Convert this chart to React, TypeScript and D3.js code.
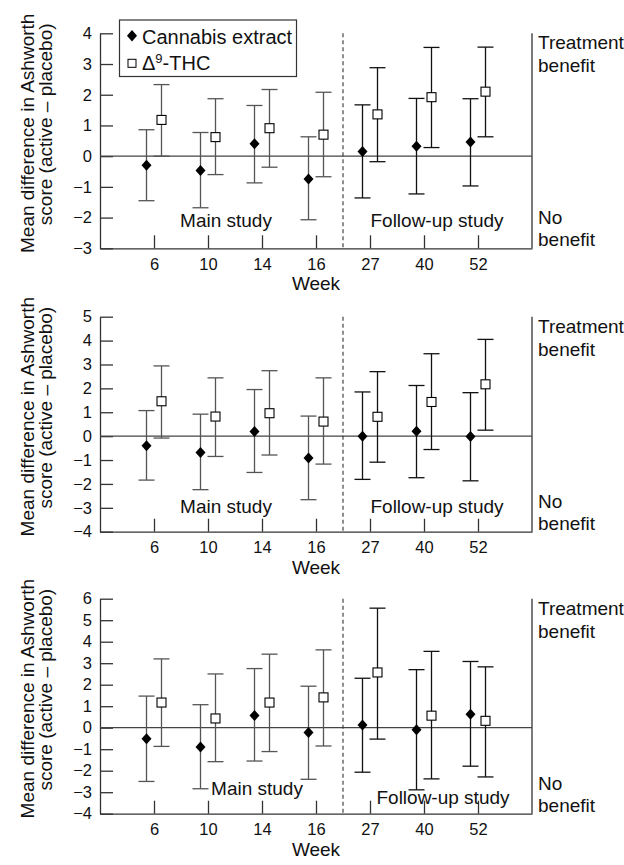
import * as d3 from "d3";
import { useEffect, useRef } from "react";

const weeks = ["6", "10", "14", "16", "27", "40", "52"];

// panel 1
const p1CannabisMean = [-0.3, -0.47, 0.4, -0.74, 0.15, 0.32, 0.46];
const p1CannabisLo = [-1.45, -1.68, -0.87, -2.07, -1.36, -1.23, -0.97];
const p1CannabisHi = [0.86, 0.77, 1.65, 0.63, 1.67, 1.88, 1.87];
const p1ThcMean = [1.18, 0.62, 0.91, 0.7, 1.36, 1.92, 2.1];
const p1ThcLo = [0.0, -0.6, -0.36, -0.67, -0.18, 0.28, 0.63];
const p1ThcHi = [2.33, 1.87, 2.17, 2.08, 2.88, 3.54, 3.55];
const p1Ticks = [-3, -2, -1, 0, 1, 2, 3, 4];

// panel 2
const p2CannabisMean = [-0.4, -0.68, 0.19, -0.91, 0.0, 0.21, -0.01];
const p2CannabisLo = [-1.84, -2.24, -1.52, -2.66, -1.81, -1.74, -1.87];
const p2CannabisHi = [1.07, 0.92, 1.95, 0.84, 1.85, 2.12, 1.82];
const p2ThcMean = [1.46, 0.82, 0.96, 0.61, 0.81, 1.43, 2.17];
const p2ThcLo = [-0.08, -0.85, -0.79, -1.17, -1.09, -0.56, 0.25];
const p2ThcHi = [2.94, 2.44, 2.74, 2.44, 2.7, 3.45, 4.05];
const p2Ticks = [-4, -3, -2, -1, 0, 1, 2, 3, 4, 5];

// panel 3
const p3CannabisMean = [-0.51, -0.9, 0.57, -0.22, 0.12, -0.09, 0.63];
const p3CannabisLo = [-2.5, -2.84, -1.55, -2.4, -2.07, -2.89, -1.79];
const p3CannabisHi = [1.47, 1.07, 2.75, 1.93, 2.3, 2.7, 3.08];
const p3ThcMean = [1.17, 0.43, 1.17, 1.41, 2.57, 0.56, 0.32];
const p3ThcLo = [-0.87, -1.58, -1.11, -0.85, -0.53, -2.38, -2.29];
const p3ThcHi = [3.2, 2.5, 3.42, 3.62, 5.56, 3.55, 2.83];
const p3Ticks = [-4, -3, -2, -1, 0, 1, 2, 3, 4, 5, 6];

const FONT = "'Liberation Sans', Arial, sans-serif";

type Series = { mean: number[]; lo: number[]; hi: number[] };

const panels = [
  {
    top: 33.3,
    ticks: p1Ticks,
    cannabis: { mean: p1CannabisMean, lo: p1CannabisLo, hi: p1CannabisHi },
    thc: { mean: p1ThcMean, lo: p1ThcLo, hi: p1ThcHi },
    mainX: 226,
    mainDy: -21,
    followX: 437,
    followDy: -21,
    legend: true,
  },
  {
    top: 316.7,
    ticks: p2Ticks,
    cannabis: { mean: p2CannabisMean, lo: p2CannabisLo, hi: p2CannabisHi },
    thc: { mean: p2ThcMean, lo: p2ThcLo, hi: p2ThcHi },
    mainX: 226,
    mainDy: -19,
    followX: 437,
    followDy: -19,
    legend: false,
  },
  {
    top: 598.7,
    ticks: p3Ticks,
    cannabis: { mean: p3CannabisMean, lo: p3CannabisLo, hi: p3CannabisHi },
    thc: { mean: p3ThcMean, lo: p3ThcLo, hi: p3ThcHi },
    mainX: 257,
    mainDy: -19,
    followX: 443,
    followDy: -10,
    legend: false,
  },
];

export default function App() {
  const svgRef = useRef<SVGSVGElement | null>(null);
  const width = 624;
  const height = 865;
  const panelH = 215;
  const left = 100;
  const right = 532;

  useEffect(() => {
    const svg = d3.select(svgRef.current);
    svg.selectAll("*").remove();

    const x = d3.scaleLinear().domain([0, 8]).range([left, right]);

    panels.forEach((p) => {
      const bottom = p.top + panelH;
      const y = d3
        .scaleLinear()
        .domain([p.ticks[0], p.ticks[p.ticks.length - 1]])
        .range([bottom, p.top]);
      const g = svg.append("g");

      // y axis
      const yAxis = d3
        .axisLeft(y)
        .tickValues(p.ticks)
        .tickSize(-13)
        .tickSizeOuter(0)
        .tickPadding(8)
        .tickFormat((d) => d3.format("")(d as number).replace("-", "\u2212"));
      g.append("g")
        .attr("transform", `translate(${left},0)`)
        .call(yAxis)
        .call((s) => s.selectAll("text").attr("font-size", 16.5).attr("font-family", FONT).attr("fill", "#111"))
        .call((s) => s.selectAll("line, path").attr("stroke", "#333").attr("stroke-width", 1.3));

      // x axis
      const xAxis = d3
        .axisBottom(x)
        .tickValues(d3.range(1, 8))
        .tickSize(-13)
        .tickSizeOuter(0)
        .tickPadding(10)
        .tickFormat((d) => weeks[(d as number) - 1]);
      g.append("g")
        .attr("transform", `translate(0,${bottom})`)
        .call(xAxis)
        .call((s) => s.selectAll("text").attr("font-size", 16.5).attr("font-family", FONT).attr("fill", "#111"))
        .call((s) => s.selectAll("line, path").attr("stroke", "#333").attr("stroke-width", 1.3));

      // right border
      g.append("line")
        .attr("x1", right).attr("x2", right)
        .attr("y1", p.top).attr("y2", bottom)
        .attr("stroke", "#333").attr("stroke-width", 1.3);

      // zero line
      g.append("line")
        .attr("x1", left).attr("x2", right)
        .attr("y1", y(0)).attr("y2", y(0))
        .attr("stroke", "#444").attr("stroke-width", 1.3);

      // dashed separator
      g.append("line")
        .attr("x1", x(4.5)).attr("x2", x(4.5))
        .attr("y1", p.top).attr("y2", bottom)
        .attr("stroke", "#333").attr("stroke-width", 1.1)
        .attr("stroke-dasharray", "4,3");

      const drawSeries = (s: Series, offset: number, kind: "diamond" | "square") => {
        const sg = g.append("g");
        s.mean.forEach((m, i) => {
          const cx = x(i + 1) + offset;
          const col = i < 4 ? "#555" : "#111";
          sg.append("line")
            .attr("x1", cx).attr("x2", cx)
            .attr("y1", y(s.lo[i])).attr("y2", y(s.hi[i]))
            .attr("stroke", col).attr("stroke-width", 1.3);
          [s.lo[i], s.hi[i]].forEach((v) => {
            sg.append("line")
              .attr("x1", cx - 8).attr("x2", cx + 8)
              .attr("y1", y(v)).attr("y2", y(v))
              .attr("stroke", col).attr("stroke-width", 1.3);
          });
          if (kind === "diamond") {
            sg.append("path")
              .attr("d", `M${cx},${y(m) - 5.5}L${cx + 5},${y(m)}L${cx},${y(m) + 5.5}L${cx - 5},${y(m)}Z`)
              .attr("fill", "#000");
          } else {
            sg.append("rect")
              .attr("x", cx - 4.5).attr("y", y(m) - 4.5)
              .attr("width", 9).attr("height", 9)
              .attr("fill", "#fff").attr("stroke", "#000").attr("stroke-width", 1.1);
          }
        });
      };
      drawSeries(p.cannabis, -7.5, "diamond");
      drawSeries(p.thc, 7.5, "square");

      const txt = (tx: number, ty: number, s: string, anchor = "start") =>
        g.append("text")
          .attr("x", tx).attr("y", ty)
          .attr("text-anchor", anchor)
          .attr("font-family", FONT).attr("font-size", 19)
          .attr("fill", "#111")
          .text(s);

      txt(p.mainX, bottom + p.mainDy, "Main study", "middle");
      txt(p.followX, bottom + p.followDy, "Follow-up study", "middle");
      txt(538, p.top + 16, "Treatment");
      txt(538, p.top + 39, "benefit");
      txt(538, bottom - 24, "No");
      txt(538, bottom - 2, "benefit");
      txt((left + right) / 2, bottom + 42, "Week", "middle");

      // y title
      const yt = g.append("text")
        .attr("font-family", FONT).attr("font-size", 19)
        .attr("fill", "#111")
        .attr("text-anchor", "middle");
      yt.append("tspan")
        .attr("x", -(p.top + 100)).attr("y", 34)
        .text("Mean difference in Ashworth");
      yt.append("tspan")
        .attr("x", -(p.top + 91)).attr("y", 52)
        .text("score (active \u2013 placebo)");
      yt.attr("transform", "rotate(-90)");

      if (p.legend) {
        const lg = g.append("g");
        lg.append("rect")
          .attr("x", 119.5).attr("y", 20)
          .attr("width", 177).attr("height", 56.5)
          .attr("fill", "#fff").attr("stroke", "#333").attr("stroke-width", 1.2);
        lg.append("path")
          .attr("d", "M132,30L137,35.7L132,41.4L127,35.7Z")
          .attr("fill", "#000");
        lg.append("rect")
          .attr("x", 128).attr("y", 59.3)
          .attr("width", 8).attr("height", 8)
          .attr("fill", "#fff").attr("stroke", "#000").attr("stroke-width", 1);
        lg.append("text")
          .attr("x", 142).attr("y", 43.5)
          .attr("font-family", FONT).attr("font-size", 20).attr("fill", "#111")
          .text("Cannabis extract");
        const t2 = lg.append("text")
          .attr("x", 142).attr("y", 70)
          .attr("font-family", FONT).attr("font-size", 20).attr("fill", "#111");
        t2.append("tspan").text("\u0394");
        t2.append("tspan").attr("font-size", 13).attr("dy", -7).text("9");
        t2.append("tspan").attr("dy", 7).text("-THC");
      }
    });
  }, []);

  return (
    <svg
      ref={svgRef}
      width={width}
      height={height}
      style={{ position: "absolute", left: 0, top: 0, background: "#fff" }}
    />
  );
}
